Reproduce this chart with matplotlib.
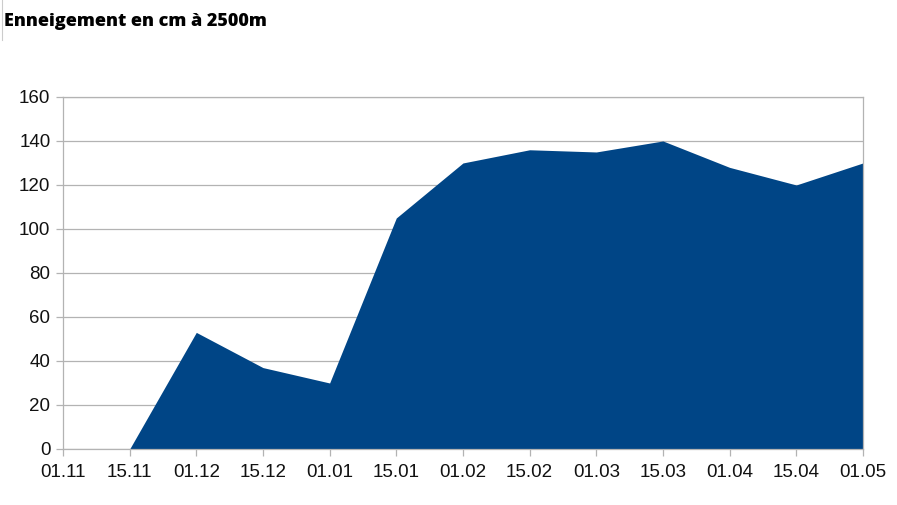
import numpy as np
import matplotlib.pyplot as plt

# snow depth data (cm at 2500m)
dates = ["01.11", "15.11", "01.12", "15.12", "01.01", "15.01", "01.02",
         "15.02", "01.03", "15.03", "01.04", "15.04", "01.05"]
snow_cm = [np.nan, 0, 53, 37, 30, 105, 130, 136, 135, 140, 128, 120, 130]

BLUE = "#004586"
GREY = "#b3b3b3"

fig = plt.figure(figsize=(8.97, 5.05), dpi=100)
ax = fig.add_axes([0.0702, 0.1109, 0.8918, 0.6971])

x = np.arange(len(dates))
y = np.array(snow_cm, dtype=float)
ax.fill_between(x, 0, y, where=~np.isnan(y), color=BLUE, linewidth=0,
                interpolate=False)

ax.set_xlim(0, len(dates) - 1)
ax.set_ylim(0, 160)
ax.set_yticks(np.arange(0, 161, 20))
ax.set_xticks(x)
ax.set_xticklabels(dates)

ax.grid(axis="y", color=GREY, linewidth=0.9)
ax.set_axisbelow(True)
for s in ax.spines.values():
    s.set_color(GREY)
    s.set_linewidth(0.9)

ax.tick_params(axis="both", colors=GREY, labelcolor="#111111",
               labelsize=13.5, length=5, width=0.9)
ax.tick_params(axis="x", pad=6)
ax.tick_params(axis="y", pad=4)
for lab in ax.get_xticklabels() + ax.get_yticklabels():
    lab.set_family("Liberation Sans")

fig.text(0.004, 0.958, "Enneigement en cm à 2500m", family="Open Sans",
         fontweight="heavy", fontsize=13, va="center", ha="left")
fig.add_artist(plt.Line2D([0.002, 0.002], [0.92, 1.0], color="#cccccc",
                          linewidth=0.8, transform=fig.transFigure))

fig.savefig("out.png", dpi=100)
